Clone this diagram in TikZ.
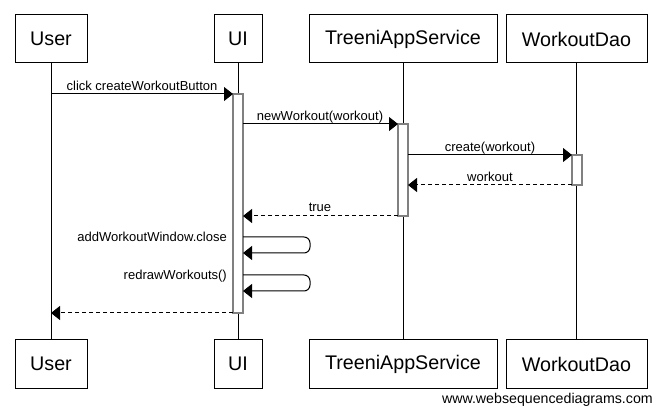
\documentclass[tikz,border=0pt]{standalone}
\usepackage{fontspec}
\setmainfont{Liberation Sans}
\usetikzlibrary{arrows.meta}
\tikzset{
  actor/.style={draw=black, line width=1pt, fill=white, inner sep=0pt, outer sep=0pt,
    minimum height=48pt, font=\fontsize{19.7}{22}\selectfont},
  act/.style={draw=black!50, line width=1.4pt, fill=white, inner sep=0pt, outer sep=0pt,
    minimum width=10pt},
  life/.style={line width=1pt, black},
  msg/.style={line width=1pt, -{Triangle[length=9pt,width=14pt]}},
  ret/.style={msg, dash pattern=on 4pt off 3pt},
  lbl/.style={font=\fontsize{13}{15}\selectfont, inner sep=0pt, anchor=base},
}
\begin{document}
\begin{tikzpicture}[x=1pt,y=-1pt]
\useasboundingbox (0,0) rectangle (662,414);
% top boxes
\node[actor, minimum width=72pt] (uT) at (51,39) {User};
\node[actor, minimum width=48pt] (iT) at (238,39) {UI};
\node[actor, minimum width=188pt] (sT) at (403,39) {TreeniAppService};
\node[actor, minimum width=141pt] (dT) at (576.5,39) {WorkoutDao};
% bottom boxes
\node[actor, minimum width=72pt] (uB) at (51,364) {User};
\node[actor, minimum width=48pt] (iB) at (238,364) {UI};
\node[actor, minimum width=188pt] (sB) at (403,364) {TreeniAppService};
\node[actor, minimum width=141pt] (dB) at (576.5,364) {WorkoutDao};
% lifelines
\draw[life] (uT.south) -- (uB.north);
\draw[life] (iT.south) -- (iB.north);
\draw[life] (sT.south) -- (sB.north);
\draw[life] (dT.south) -- (dB.north);
% activations
\node[act, minimum height=219pt, anchor=north] (aI) at (238,94) {};
\node[act, minimum height=92pt, anchor=north] (aS) at (403,124) {};
\node[act, minimum height=30pt, anchor=north] (aD) at (577,155) {};
% messages
\draw[msg] (uT.south |- aI.north) -- (aI.north west);
\node[lbl] (l1) at (142,91) {click createWorkoutButton};
\draw[msg] (aI.east |- aS.north) -- (aS.north west);
\node[lbl] (l2) at (320,121) {newWorkout(workout)};
\draw[msg] (aS.east |- aD.north) -- (aD.north west);
\node[lbl] (l3) at (490,152) {create(workout)};
\draw[ret] (aD.south west) -- (aS.east |- aD.south);
\node[lbl] (l4) at (490,182) {workout};
\draw[ret] (aS.south west) -- (aI.east |- aS.south);
\node[lbl] (l5) at (320,211.5) {true};
% self messages
\coordinate (s1a) at (aI.east |- 0,237);
\coordinate (s1b) at (aI.east |- 0,253);
\draw[msg, rounded corners=6pt] (s1a) -- (310,237) -- (310,253) -- (s1b);
\node[lbl, anchor=base east] (l6) at (227,241.5) {addWorkoutWindow.close};
\coordinate (s2a) at (aI.east |- 0,275);
\coordinate (s2b) at (aI.east |- 0,291);
\draw[msg, rounded corners=6pt] (s2a) -- (310,275) -- (310,291) -- (s2b);
\node[lbl, anchor=base east] (l7) at (227,279.5) {redrawWorkouts()};
% final return
\draw[ret] (aI.south west) -- (uT.south |- aI.south);
% footer
\node[font=\fontsize{14.2}{16}\selectfont, inner sep=0pt, anchor=base east] (ft) at (653,403.5) {www.websequencediagrams.com};
\end{tikzpicture}
\end{document}
